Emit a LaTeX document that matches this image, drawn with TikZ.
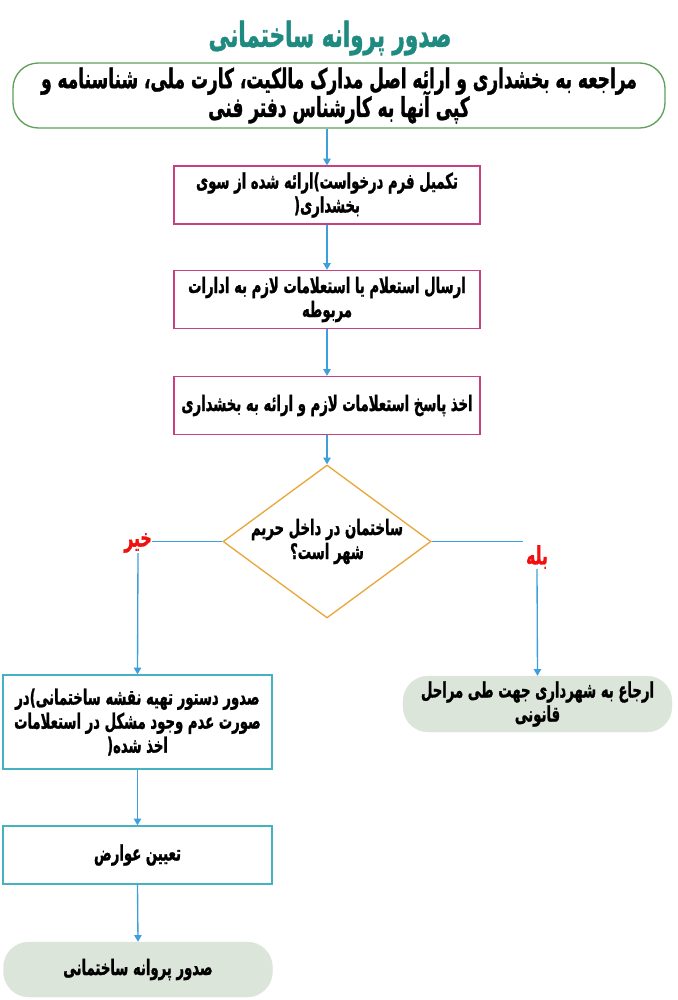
\documentclass[tikz,border=0pt]{standalone}
\usepackage{fontspec}
\usetikzlibrary{arrows.meta,shapes.geometric}
\TeXXeTstate=1
\newfontfamily\fa[Script=Arabic,FakeStretch=0.62,BoldFeatures={FakeBold=1.1}]{DejaVu Sans}
\newcommand{\rl}[1]{\beginR #1\endR}
\newcommand{\tightlines}{\lineskiplimit=-50pt\lineskip=0pt}
\definecolor{titlecol}{HTML}{1F8A80}
\definecolor{startcol}{HTML}{5FA05A}
\definecolor{magcol}{HTML}{C84080}
\definecolor{arrcol}{HTML}{3D9FDB}
\definecolor{diacol}{HTML}{E9A73B}
\definecolor{cyancol}{HTML}{45B3BF}
\definecolor{termfill}{HTML}{DCE5D9}
\definecolor{redcol}{HTML}{F01010}
\begin{document}
\begin{tikzpicture}[x=0.75pt,y=-0.75pt,
  txt/.style={font=\fa\bfseries\fontsize{16}{18}\selectfont\tightlines, align=center, text=black},
  startbox/.style={txt, font=\fa\bfseries\fontsize{20.5}{21.5}\selectfont\tightlines, draw=startcol, line width=1pt, fill=white, rounded corners=19pt, minimum width=489pt, minimum height=48.75pt, inner sep=0pt},
  magbox/.style={txt, draw=magcol, line width=1pt, minimum width=229.5pt, minimum height=43.5pt, inner sep=0pt},
  cyanbox/.style={txt, draw=cyancol, line width=1pt, minimum width=201.75pt, inner sep=0pt},
  termbox/.style={txt, fill=termfill, draw=termfill, line width=0.3pt, rounded corners=19pt, minimum width=201.75pt, inner sep=0pt},
  decision/.style={diamond, draw=diacol, line width=1pt, minimum width=156pt, minimum height=114.75pt, inner sep=0pt},
  ynlabel/.style={font=\fa\bfseries\fontsize{19}{20}\selectfont, text=redcol, inner sep=0pt},
  conn/.style={draw=arrcol, line width=1pt},
  arr/.style={conn, -{Triangle[width=5.5pt,length=5pt]}}
]
\useasboundingbox (0,0) rectangle (678,1000);
\node[font=\fa\bfseries\fontsize{26}{28}\selectfont, text=titlecol] (title) at (330,38) {\rl{صدور پروانه ساختمانی}};
\node[startbox] (start) at (339,95.5) {\rl{مراجعه به بخشداری و ارائه اصل مدارک مالکیت، کارت ملی، شناسنامه و}\\\rl{کپی آنها به کارشناس دفتر فنی}};
\node[magbox] (b1) at (327,195) {\rl{تکمیل فرم درخواست)ارائه شده از سوی}\\\rl{بخشداری(}};
\node[magbox] (b2) at (327,299.5) {\rl{ارسال استعلام یا استعلامات لازم به ادارات}\\\rl{مربوطه}};
\node[magbox] (b3) at (327,405.5) {\rl{اخذ پاسخ استعلامات لازم و ارائه به بخشداری}};
\node[decision] (q) at (327,541.5) {};
\node[txt] (qt) at (q.center) {\rl{ساختمان در داخل حریم}\\\rl{شهر است؟}};
\node[ynlabel] (no) at (138,543) {\rl{خیر}};
\node[ynlabel] (yes) at (537,557) {\rl{بله}};
\node[cyanbox, minimum height=70.5pt] (b4) at (137.5,722) {\rl{صدور دستور تهیه نقشه ساختمانی)در}\\\rl{صورت عدم وجود مشکل در استعلامات}\\\rl{اخذ شده(}};
\node[termbox, minimum height=42pt] (t1) at (537.5,704) {\rl{ارجاع به شهرداری جهت طی مراحل}\\\rl{قانونی}};
\node[cyanbox, minimum height=43.5pt] (b5) at (137.5,855) {\rl{تعیین عوارض}};
\node[termbox, minimum height=41.25pt] (t2) at (138,969.5) {\rl{صدور پروانه ساختمانی}};
\draw[arr] (start.south -| b1.north) -- (b1.north);
\draw[arr] (b1.south) -- (b2.north);
\draw[arr] (b2.south) -- (b3.north);
\draw[arr] (b3.south) -- (q.north);
\draw[conn] (q.west) -- (no.east |- q.west);
\draw[arr] (no.south) -- (b4.north);
\draw[conn] (q.east) -- ([xshift=-2pt]yes.west |- q.east);
\draw[arr] (yes.south) -- (t1.north);
\draw[arr] (b4.south) -- (b5.north);
\draw[arr] (b5.south) -- (t2.north);
\end{tikzpicture}
\end{document}
